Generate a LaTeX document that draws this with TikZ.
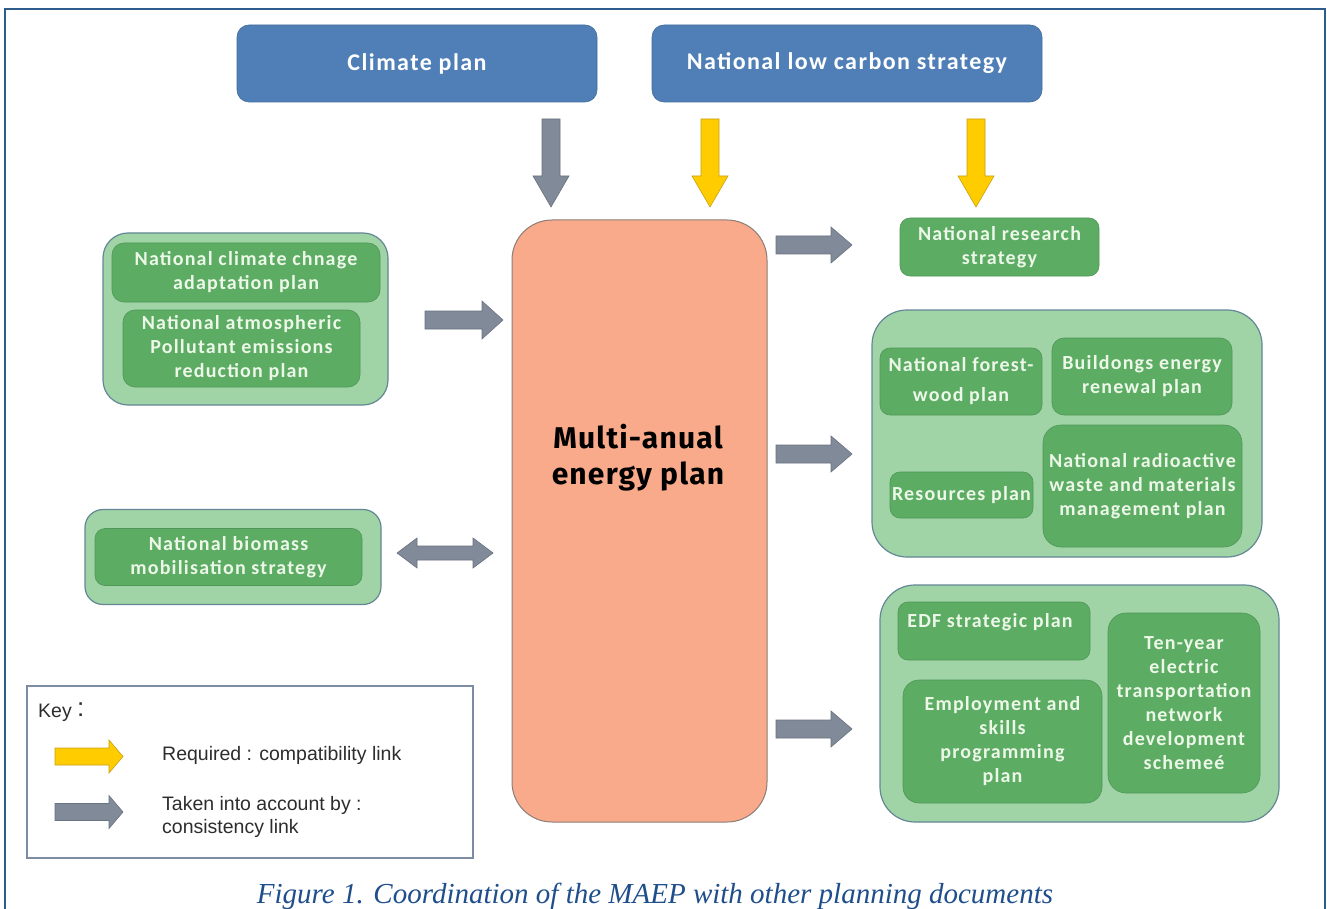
\documentclass[tikz,border=0pt]{standalone}
\usepackage{fontspec}
\setmainfont{Carlito}
\newfontfamily\maepfont[LetterSpace=4]{Fira Sans}
\newfontfamily\keyfont{Liberation Sans}
\newfontfamily\capfont{Liberation Serif}
\newfontfamily\wideboxfont[LetterSpace=6]{Carlito}
\definecolor{frameblue}{RGB}{46,92,140}
\definecolor{topblue}{RGB}{79,127,182}
\definecolor{orangefill}{RGB}{249,170,138}
\definecolor{orangeline}{RGB}{140,125,120}
\definecolor{outergreen}{RGB}{160,212,166}
\definecolor{outerline}{RGB}{100,135,150}
\definecolor{innergreen}{RGB}{92,172,100}
\definecolor{innerline}{RGB}{80,150,88}
\definecolor{boxtext}{RGB}{236,247,232}
\definecolor{arrgray}{RGB}{128,138,153}
\definecolor{arrgrayline}{RGB}{105,114,128}
\definecolor{arryellow}{RGB}{255,204,0}
\definecolor{arryellowline}{RGB}{200,160,20}
\definecolor{keyline}{RGB}{125,140,165}
\definecolor{keytext}{RGB}{45,45,45}
\definecolor{capblue}{RGB}{31,78,140}
\newcommand{\RArr}[7]{\filldraw[#1] (#2,#4-#5) -- (#3-#7,#4-#5) -- (#3-#7,#4-#6) -- (#3,#4) -- (#3-#7,#4+#6) -- (#3-#7,#4+#5) -- (#2,#4+#5) -- cycle;}
\newcommand{\DArr}[7]{\filldraw[#1] (#2-#5,#3) -- (#2+#5,#3) -- (#2+#5,#4-#7) -- (#2+#6,#4-#7) -- (#2,#4) -- (#2-#6,#4-#7) -- (#2-#5,#4-#7) -- cycle;}
\newcommand{\LRArr}[7]{\filldraw[#1] (#2,#4) -- (#2+#7,#4-#6) -- (#2+#7,#4-#5) -- (#3-#7,#4-#5) -- (#3-#7,#4-#6) -- (#3,#4) -- (#3-#7,#4+#6) -- (#3-#7,#4+#5) -- (#2+#7,#4+#5) -- (#2+#7,#4+#6) -- cycle;}
\begin{document}
\begin{tikzpicture}[x=1pt,y=-1pt,
  topbox/.style={fill=topblue, draw=topblue!85!black, line width=0.6pt, rounded corners=12pt, text=white, font=\wideboxfont\fontsize{24}{28}\selectfont\bfseries, inner sep=0pt},
  outerbox/.style={fill=outergreen, draw=outerline, line width=1.2pt, rounded corners=#1, inner sep=0pt},
  innerbox/.style={fill=innergreen, draw=innerline, line width=0.6pt, rounded corners=#1, inner sep=0pt, text=boxtext, align=center},
  gtext/.style={font=\wideboxfont\fontsize{20}{24}\selectfont\bfseries},
  maepbox/.style={fill=orangefill, draw=orangeline, line width=1pt, rounded corners=40pt, inner sep=0pt},
  grayarr/.style={fill=arrgray, draw=arrgrayline, line width=0.6pt},
  yelarr/.style={fill=arryellow, draw=arryellowline, line width=0.6pt},
  keytxt/.style={font=\keyfont\fontsize{19.5}{24}\selectfont, text=keytext, anchor=base west, inner sep=0pt}
]
\useasboundingbox (0,0) rectangle (1327,909);
\fill[white] (0,0) rectangle (1327,909);
\draw[frameblue, line width=2pt] (5,909) -- (5,9) -- (1325,9) -- (1325,909);

% top boxes
\node[topbox, minimum width=360pt, minimum height=77pt] (climate) at (417,63.5) {Climate plan};
\node[topbox, minimum width=390pt, minimum height=77pt] (nlcs) at (847,63.5) {National low carbon strategy};

% central box
\node[maepbox, minimum width=255pt, minimum height=602pt] (maep) at (639.5,521) {};
\node[font=\maepfont\fontsize{30}{36}\selectfont\bfseries, align=center, inner sep=0pt] (maeptext) at (638,458) {Multi-anual\\energy plan};

% left group 1
\node[outerbox=25pt, minimum width=285pt, minimum height=172pt] (g1) at (245.5,319) {};
\node[innerbox=12pt, gtext, minimum width=268pt, minimum height=59pt] (adapt) at (246,272.5) {National climate chnage\\adaptation plan};
\node[innerbox=12pt, gtext, minimum width=237pt, minimum height=77pt] (atmo) at (241.5,348.5) {National atmospheric\\Pollutant emissions\\reduction plan};

% left group 2
\node[outerbox=18pt, minimum width=296pt, minimum height=95pt] (g2) at (233,557) {};
\node[innerbox=10pt, gtext, minimum width=267pt, minimum height=57pt] (biomass) at (228.5,557) {National biomass\\mobilisation strategy};

% research strategy
\node[innerbox=10pt, gtext, minimum width=199pt, minimum height=58pt] (research) at (999.5,247) {National research\\strategy};

% right group 2
\node[outerbox=35pt, minimum width=390pt, minimum height=247pt] (g3) at (1067,433.5) {};
\node[innerbox=10pt, gtext, minimum width=162pt, minimum height=67pt, font=\wideboxfont\fontsize{20}{30}\selectfont\bfseries] (forest) at (961,381.5) {National forest-\\wood plan};
\node[innerbox=12pt, gtext, minimum width=180pt, minimum height=77pt] (buildings) at (1142,376.5) {Buildongs energy\\renewal plan};
\node[innerbox=10pt, gtext, minimum width=143pt, minimum height=46pt] (resources) at (961.5,495) {Resources plan};
\node[innerbox=18pt, gtext, minimum width=199pt, minimum height=122pt] (radio) at (1142.5,486) {National radioactive\\waste and materials\\management plan};

% right group 3
\node[outerbox=35pt, minimum width=399pt, minimum height=237pt] (g4) at (1079.5,703.5) {};
\node[innerbox=10pt, minimum width=192pt, minimum height=58pt] (edf) at (994,631) {};
\node[gtext, text=boxtext, inner sep=0pt] (edftext) at (990,622) {EDF strategic plan};
\node[innerbox=16pt, gtext, minimum width=199pt, minimum height=123pt] (employ) at (1002.5,741.5) {Employment and\\skills\\programming\\plan};
\node[innerbox=18pt, gtext, minimum width=152pt, minimum height=180pt] (tenyear) at (1184,703) {Ten-year\\electric\\transportation\\network\\development\\schemeé};

% block arrows
\DArr{grayarr}{551}{119}{207}{9}{18}{31}
\DArr{yelarr}{710}{119}{207}{9}{18}{31}
\DArr{yelarr}{976}{119}{207}{9}{18}{31}
\RArr{grayarr}{425}{503}{320}{9}{19}{21}
\LRArr{grayarr}{397}{493}{553}{7}{15}{20}
\RArr{grayarr}{776}{852}{245}{9}{18}{21}
\RArr{grayarr}{776}{852}{454}{9}{18}{21}
\RArr{grayarr}{776}{852}{729}{9}{18}{21}

% key
\node[draw=keyline, line width=1.2pt, fill=white, minimum width=446pt, minimum height=172pt, inner sep=0pt] (key) at (250,772) {};
\node[keytxt] (keylabel) at (38,717) {Key \raisebox{1pt}{\fontsize{26}{26}\selectfont:}};
\RArr{yelarr}{55}{123}{756.5}{8.5}{16.5}{14}
\RArr{grayarr}{55}{123}{812}{8.5}{16.5}{14}
\node[keytxt] (req) at (162,760) {Required : compatibility link};
\node[keytxt] (taken) at (162,810) {Taken into account by :};
\node[keytxt] (consist) at (162,833) {consistency link};

% caption
\node[font=\capfont\itshape\fontsize{29}{30}\selectfont, text=capblue, inner sep=0pt, anchor=base] (caption) at (655,903) {\underline{Figure 1}. Coordination of the MAEP with other planning documents};
\end{tikzpicture}
\end{document}
